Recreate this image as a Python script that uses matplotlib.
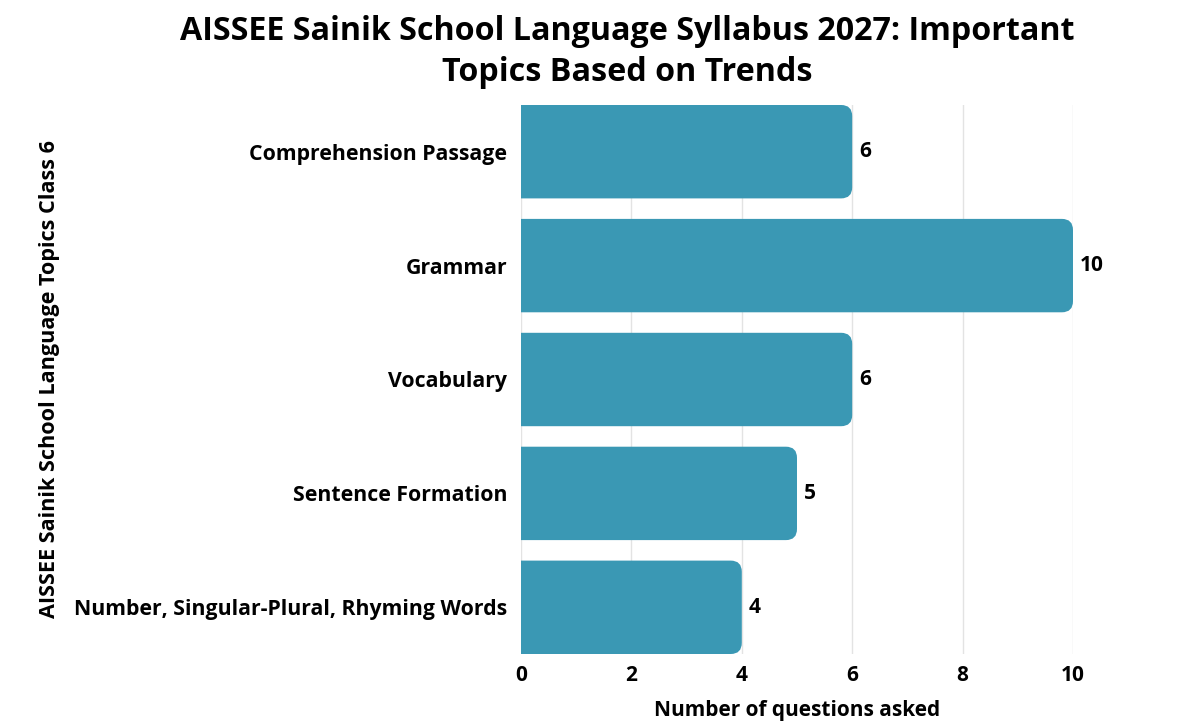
import matplotlib
matplotlib.use('Agg')
import matplotlib.pyplot as plt
from matplotlib.patches import FancyBboxPatch

topics = ['Comprehension Passage', 'Grammar', 'Vocabulary',
          'Sentence Formation', 'Number, Singular-Plural, Rhyming Words']
questions = [6, 10, 6, 5, 4]

bar_color = '#3a98b4'
plt.rcParams['font.family'] = ['Open Sans', 'DejaVu Sans']

fig = plt.figure(figsize=(12, 7.26), dpi=100)
ax = fig.add_axes([521 / 1200, 1 - 654 / 726, (1073 - 521) / 1200, (654 - 105) / 726])

ypos = list(range(len(topics)))
bars = ax.barh(ypos, questions, height=0.82, color=bar_color)

# swap plain bars for rounded ones; the left end is tucked under x=0 and clipped
for b in bars:
    x, y, w, h = b.get_x(), b.get_y(), b.get_width(), b.get_height()
    b.remove()
    rp = FancyBboxPatch((x - 0.5, y), w + 0.5, h,
                        boxstyle='round,pad=0,rounding_size=0.2',
                        mutation_aspect=0.49, facecolor=bar_color,
                        edgecolor='none', zorder=3)
    ax.add_patch(rp)

for yi, v in zip(ypos, questions):
    ax.text(v + 0.12, yi, str(v), va='center', ha='left', fontsize=15,
            fontweight='bold', clip_on=False)

ax.set_xlim(0, 10)
ax.set_ylim(len(topics) - 0.59, -0.41)
ax.set_yticks(ypos)
ax.set_yticklabels(topics, fontsize=15.3, fontweight='bold')
ax.set_xticks([0, 2, 4, 6, 8, 10])
ax.tick_params(axis='x', labelsize=15, length=0, pad=8)
ax.tick_params(axis='y', length=0, pad=10)
for lbl in ax.get_xticklabels():
    lbl.set_fontweight('bold')
ax.grid(axis='x', color='#e3e3e3', linewidth=1, zorder=0)
ax.set_axisbelow(True)
for s in ax.spines.values():
    s.set_visible(False)

ax.set_xlabel('Number of questions asked', fontsize=15, fontweight='bold', labelpad=10)
fig.text(50 / 1200, 1 - 379 / 726, 'AISSEE Sainik School Language Topics Class 6',
         rotation=90, ha='center', va='center', fontsize=15.6, fontweight='bold')
fig.text(627 / 1200, 1 - 52 / 726,
         'AISSEE Sainik School Language Syllabus 2027: Important\nTopics Based on Trends',
         ha='center', va='center', fontsize=23.2, fontweight='bold', linespacing=1.33)

fig.savefig('out.png', dpi=100, facecolor='white')
